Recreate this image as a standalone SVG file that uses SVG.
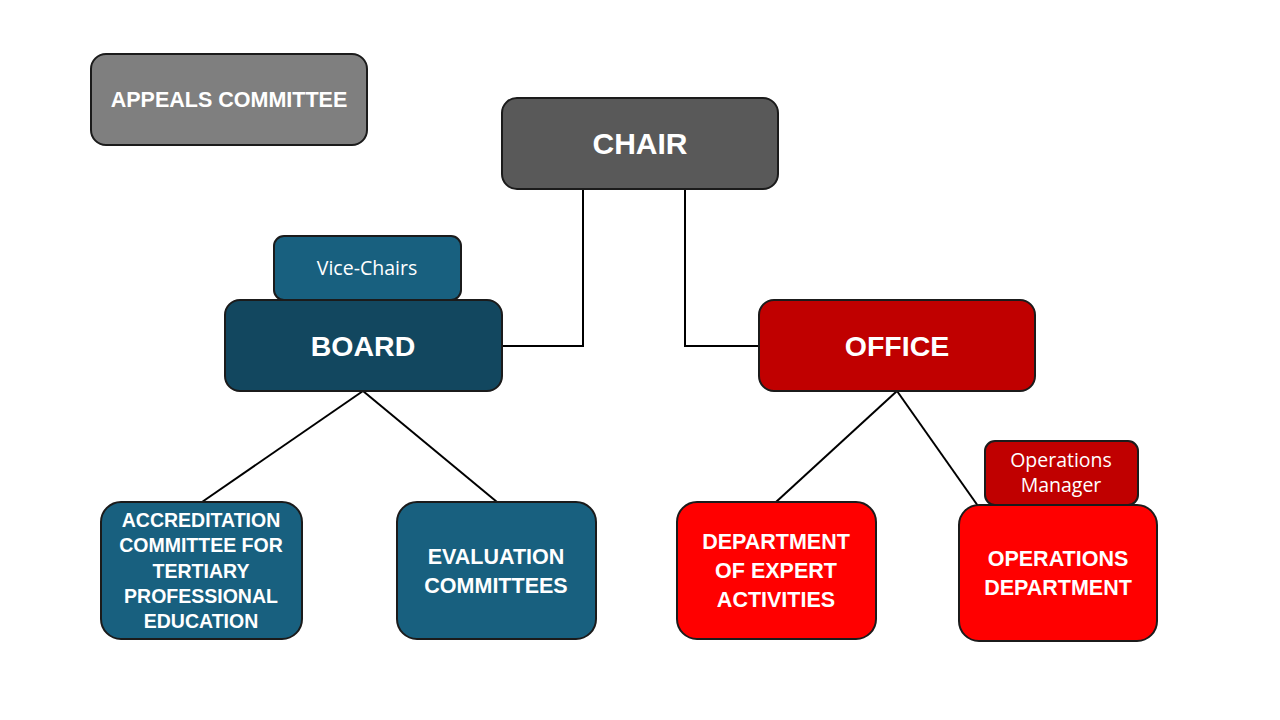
<svg xmlns="http://www.w3.org/2000/svg" width="1280" height="720" viewBox="0 0 1280 720">
<style>
.box{stroke:#1b1b1b;stroke-width:2}
.t{font-family:"Liberation Sans",Arial,sans-serif;fill:#fff;text-anchor:middle;font-weight:bold}
.s{font-family:"Open Sans","Liberation Sans",sans-serif;fill:#fff;text-anchor:middle;font-size:19.5px}
.c{stroke:#000;stroke-width:2;fill:none}
</style>
<rect width="1280" height="720" fill="#fff"/>
<g id="connectors">
<polyline class="c" points="583,189 583,346 502,346"/>
<polyline class="c" points="685,189 685,346 759,346"/>
<line class="c" x1="363" y1="391" x2="202" y2="502"/>
<line class="c" x1="363" y1="391" x2="497" y2="502"/>
<line class="c" x1="897" y1="391" x2="776" y2="502"/>
<line class="c" x1="897" y1="391" x2="978" y2="506"/>
</g>
<g id="appeals">
<rect class="box" x="91" y="54" width="276" height="91" rx="15" fill="#7f7f7f"/>
<text class="t" x="229" y="107" font-size="21.5">APPEALS COMMITTEE</text>
</g>
<g id="chair">
<rect class="box" x="502" y="98" width="276" height="91" rx="15" fill="#595959"/>
<text class="t" x="640" y="154" font-size="30">CHAIR</text>
</g>
<g id="vicechairs">
<rect class="box" x="274" y="236" width="187" height="64" rx="10" fill="#18607f"/>
<text class="s" x="367" y="275" font-size="20">Vice-Chairs</text>
</g>
<g id="board">
<rect class="box" x="225" y="300" width="277" height="91" rx="15" fill="#12475f"/>
<text class="t" x="363" y="356" font-size="28.5">BOARD</text>
</g>
<g id="office">
<rect class="box" x="759" y="300" width="276" height="91" rx="15" fill="#c00000"/>
<text class="t" x="897" y="356" font-size="28.5">OFFICE</text>
</g>
<g id="opsmanager">
<rect class="box" x="985" y="441" width="153" height="64" rx="10" fill="#c00000"/>
<text class="s" x="1061" y="467">Operations</text>
<text class="s" x="1061" y="492">Manager</text>
</g>
<g id="accreditation">
<rect class="box" x="101" y="502" width="201" height="137" rx="20" fill="#18607f"/>
<text class="t" font-size="19.5"><tspan x="201" y="527">ACCREDITATION</tspan><tspan x="201" y="552">COMMITTEE FOR</tspan><tspan x="201" y="578">TERTIARY</tspan><tspan x="201" y="603">PROFESSIONAL</tspan><tspan x="201" y="628">EDUCATION</tspan></text>
</g>
<g id="evaluation">
<rect class="box" x="397" y="502" width="199" height="137" rx="20" fill="#18607f"/>
<text class="t" font-size="21.5"><tspan x="496" y="564">EVALUATION</tspan><tspan x="496" y="593">COMMITTEES</tspan></text>
</g>
<g id="expert">
<rect class="box" x="677" y="502" width="199" height="137" rx="20" fill="#ff0000"/>
<text class="t" font-size="21.5"><tspan x="776" y="549">DEPARTMENT</tspan><tspan x="776" y="578">OF EXPERT</tspan><tspan x="776" y="607">ACTIVITIES</tspan></text>
</g>
<g id="operations">
<rect class="box" x="959" y="505" width="198" height="136" rx="20" fill="#ff0000"/>
<text class="t" font-size="21.5"><tspan x="1058" y="566">OPERATIONS</tspan><tspan x="1058" y="595">DEPARTMENT</tspan></text>
</g>
</svg>
